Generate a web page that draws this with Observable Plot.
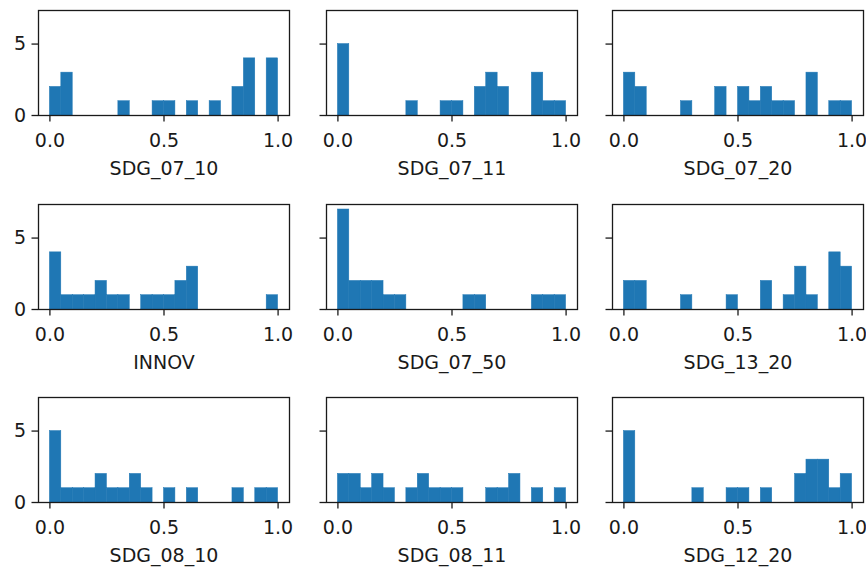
<!DOCTYPE html>
<html>
<head>
<meta charset="utf-8">
<script src="https://cdn.jsdelivr.net/npm/d3@7"></script>
<script src="https://cdn.jsdelivr.net/npm/@observablehq/plot@0.6"></script>
<style>
  html, body { margin: 0; padding: 0; background: #ffffff; }
  #chart { position: relative; width: 866px; height: 573px; overflow: hidden; background: #ffffff; }
  #chart svg { position: absolute; overflow: visible; }
</style>
</head>
<body>
<div id="chart"></div>
<script>
// Indicator names (panel order, row by row)
const indicators = ["SDG_07_10", "SDG_07_11", "SDG_07_20", "INNOV", "SDG_07_50", "SDG_13_20", "SDG_08_10", "SDG_08_11", "SDG_12_20"];

// Left edges of the 20 histogram bins (bin width 0.05)
const binStarts = [0, 0.05, 0.1, 0.15, 0.2, 0.25, 0.3, 0.35, 0.4, 0.45, 0.5, 0.55, 0.6, 0.65, 0.7, 0.75, 0.8, 0.85, 0.9, 0.95];
const binWidth = 0.05;

// Counts per bin
const SDG_07_10 = [2, 3, 0, 0, 0, 0, 1, 0, 0, 1, 1, 0, 1, 0, 1, 0, 2, 4, 0, 4];
const SDG_07_11 = [5, 0, 0, 0, 0, 0, 1, 0, 0, 1, 1, 0, 2, 3, 2, 0, 0, 3, 1, 1];
const SDG_07_20 = [3, 2, 0, 0, 0, 1, 0, 0, 2, 0, 2, 1, 2, 1, 1, 0, 3, 0, 1, 1];
const INNOV     = [4, 1, 1, 1, 2, 1, 1, 0, 1, 1, 1, 2, 3, 0, 0, 0, 0, 0, 0, 1];
const SDG_07_50 = [7, 2, 2, 2, 1, 1, 0, 0, 0, 0, 0, 1, 1, 0, 0, 0, 0, 1, 1, 1];
const SDG_13_20 = [2, 2, 0, 0, 0, 1, 0, 0, 0, 1, 0, 0, 2, 0, 1, 3, 1, 0, 4, 3];
const SDG_08_10 = [5, 1, 1, 1, 2, 1, 1, 2, 1, 0, 1, 0, 1, 0, 0, 0, 1, 0, 1, 1];
const SDG_08_11 = [2, 2, 1, 2, 1, 0, 1, 2, 1, 1, 1, 0, 0, 1, 1, 2, 0, 1, 0, 1];
const SDG_12_20 = [5, 0, 0, 0, 0, 0, 1, 0, 0, 1, 1, 0, 1, 0, 0, 2, 3, 3, 1, 2];

const seriesCounts = [SDG_07_10, SDG_07_11, SDG_07_20, INNOV, SDG_07_50, SDG_13_20, SDG_08_10, SDG_08_11, SDG_12_20];

// Tick values
const xTicks = [0, 0.5, 1.0];
const yTicks = [0, 5];

// Layout (frame positions in the page)
const colLeft = [38.3, 325.7, 612.3];
const rowTop = [10, 203.5, 397];
const frameW = 251;
const frameH = 105;
const mL = 45, mR = 5, mT = 5, mB = 80;

const container = document.getElementById("chart");
const fontSize = 19;

indicators.forEach((name, i) => {
  const row = Math.floor(i / 3), col = i % 3;
  const counts = seriesCounts[i];
  const bins = binStarts.map((x1, k) => ({x1, x2: x1 + binWidth, count: counts[k]})).filter(d => d.count > 0);

  const chart = Plot.plot({
    width: mL + frameW + mR,
    height: mT + frameH + mB,
    marginLeft: mL,
    marginRight: mR,
    marginTop: mT,
    marginBottom: mB,
    style: {fontFamily: "'DejaVu Sans', sans-serif", fontSize: fontSize + "px", color: "#1a1a1a", background: "transparent", overflow: "visible"},
    x: {domain: [-0.05, 1.05]},
    y: {domain: [0, 7.35]},
    marks: [
      Plot.rectY(bins, {x1: "x1", x2: "x2", y: "count", fill: "#1f77b4", stroke: "#1f77b4", strokeWidth: 0.5}),
      Plot.frame({stroke: "#1a1a1a", strokeWidth: 1.3}),
      Plot.axisX({ticks: xTicks, tickFormat: d3.format(".1f"), tickSize: 6.5, tickPadding: 11, label: null, strokeWidth: 1.3, fontSize: fontSize}),
      Plot.axisY({ticks: yTicks, tickFormat: col === 0 ? (d => String(d)) : (() => ""), tickSize: 6.5, tickPadding: 6, label: null, strokeWidth: 1.3, fontSize: fontSize}),
      Plot.text([name], {frameAnchor: "bottom", dy: 59, text: d => d, fontSize: fontSize, fill: "#1a1a1a"})
    ]
  });
  chart.style.left = (colLeft[col] - mL) + "px";
  chart.style.top = (rowTop[row] - mT) + "px";
  container.appendChild(chart);
});
</script>
</body>
</html>
